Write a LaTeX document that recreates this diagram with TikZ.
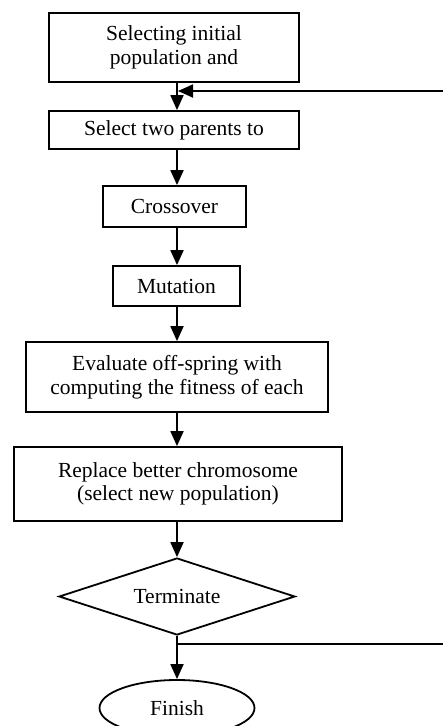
\documentclass[tikz,border=0pt]{standalone}
\usepackage{fontspec}
\setmainfont{Liberation Serif}
\usetikzlibrary{shapes.geometric,arrows.meta}
\begin{document}
\begin{tikzpicture}[x=1pt,y=-1pt,
  every node/.style={font=\fontsize{21.5}{23.5}\selectfont, line width=1.8pt, align=center, inner sep=0pt},
  box/.style={draw, rectangle},
  arr/.style={line width=1.8pt, -{Triangle[length=15pt,width=13pt]}},
  ln/.style={line width=1.8pt}]
\useasboundingbox (0,0) rectangle (443,726);
\clip (0,0) rectangle (443,726);
\coordinate (ax) at (177,0);
\node[box, minimum width=250pt, minimum height=69pt] (b1) at (174,47.5) {Selecting initial\\population and};
\node[box, minimum width=250pt, minimum height=38pt] (b2) at (174,130) {Select two parents to};
\node[box, minimum width=143pt, minimum height=41pt] (b3) at (174.5,206.5) {Crossover};
\node[box, minimum width=127pt, minimum height=40pt] (b4) at (176.5,286) {Mutation};
\node[box, minimum width=302pt, minimum height=70pt] (b5) at (177,377) {Evaluate off-spring with\\computing the fitness of each};
\node[box, minimum width=328pt, minimum height=74pt] (b6) at (178,484) {Replace better chromosome\\(select new population)};
\node[draw, diamond, aspect=3.06, minimum width=236pt, minimum height=77pt] (d) at (177,596.5) {Terminate};
\node[draw, ellipse, minimum width=155pt, minimum height=56pt] (e) at (177,708) {Finish};
\coordinate (fbR) at (443,91);
\coordinate (brR) at (443,644);
\draw[arr] (b1.south -| ax) -- (b2.north -| ax);
\draw[arr] (b2.south -| ax) -- (b3.north -| ax);
\draw[arr] (b3.south -| ax) -- (b4.north -| ax);
\draw[arr] (b4.south -| ax) -- (b5.north -| ax);
\draw[arr] (b5.south -| ax) -- (b6.north -| ax);
\draw[arr] (b6.south -| ax) -- (d.north);
\draw[arr] (d.south) -- (e.north);
\draw[arr] (fbR) -- ([xshift=1pt]fbR -| ax);
\draw[ln] (brR) -- (brR -| d.south);
\end{tikzpicture}
\end{document}
